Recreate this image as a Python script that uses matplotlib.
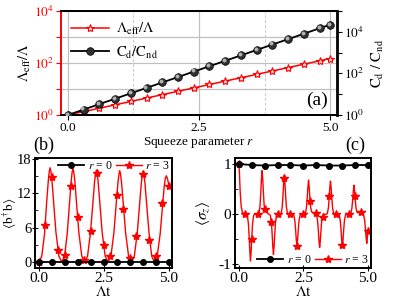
import matplotlib
matplotlib.use('Agg')
import matplotlib.pyplot as plt
from matplotlib.ticker import NullFormatter, FixedLocator, LogLocator
from matplotlib.transforms import offset_copy

plt.rcParams['font.family'] = ['Liberation Serif', 'DejaVu Serif']
plt.rcParams['mathtext.fontset'] = 'stix'
plt.rcParams['axes.unicode_minus'] = False

# ---- panel (a): ratios vs squeeze parameter
r_a = [0.0, 0.3, 0.6, 0.9, 1.2, 1.5, 1.8, 2.1, 2.4, 2.7, 3.0, 3.3, 3.6, 3.9, 4.2, 4.5, 4.8, 5.0]
lam_ratio = [1.0, 1.35, 1.82, 2.46, 3.32, 4.48, 6.05, 8.17, 11.0, 14.9, 20.1, 27.1, 36.6,
             49.4, 66.7, 90.0, 122, 148]
cd_ratio = [1.0, 1.82, 3.32, 6.05, 11.0, 20.1, 36.6, 66.7, 122, 221, 403, 735, 1340,
            2440, 4450, 8100, 14800, 22000]

# ---- panel (b): <b^dag b> vs Lambda t
t_mark = [0.0, 0.25, 0.5, 0.75, 1.0, 1.25, 1.5, 1.75, 2.0, 2.25, 2.5, 2.75, 3.0, 3.25,
          3.5, 3.75, 4.0, 4.25, 4.5, 4.75, 5.0]
t_circ = [0.0, 0.5, 1.0, 1.5, 2.0, 2.5, 3.0, 3.5, 4.0, 4.5, 5.0]
nb_r0 = [0, 0, 0, 0, 0, 0, 0, 0, 0, 0, 0]
nb_star = [0.0, 6.4, 14.8, 2.0, 1.3, 13.3, 7.8, 0.4, 5.4, 15.5, 3.0, 1.1, 11.7, 9.2,
           0.7, 4.6, 15.4, 3.9, 1.1, 10.2, 13.2]
t_b = [0.0, 0.11, 0.215, 0.30, 0.365, 0.40, 0.43, 0.46, 0.50, 0.565, 0.655, 0.77, 0.88,
       0.99, 1.095, 1.18, 1.245, 1.28, 1.31, 1.34, 1.38, 1.445, 1.535, 1.65, 1.76,
       1.87, 1.985, 2.075, 2.14, 2.18, 2.21, 2.24, 2.28, 2.345, 2.435, 2.55, 2.66,
       2.77, 2.885, 2.975, 3.04, 3.08, 3.11, 3.14, 3.18, 3.245, 3.335, 3.45, 3.56,
       3.67, 3.785, 3.875, 3.94, 3.98, 4.01, 4.04, 4.08, 4.145, 4.235, 4.34, 4.44,
       4.55, 4.665, 4.755, 4.82, 4.86, 4.90, 4.94, 4.97, 5.0]
nb_r3 = [0.0, 1.0, 4.8, 10.5, 14.3, 15.8, 16.4, 15.8, 14.3, 10.5, 5.2, 1.0, 0.0,
         1.0, 5.2, 10.4, 14.2, 15.7, 16.3, 15.7, 14.2, 10.4, 5.2, 1.0, 0.0,
         1.0, 5.1, 10.2, 13.9, 15.4, 16.0, 15.4, 13.9, 10.2, 5.1, 1.0, 0.0,
         1.0, 5.1, 10.2, 13.8, 15.3, 15.9, 15.3, 13.8, 10.2, 5.1, 1.0, 0.0,
         1.0, 5.1, 10.1, 13.7, 15.2, 15.8, 15.2, 13.7, 10.1, 5.1, 1.0, 0.0,
         1.0, 4.9, 9.7, 13.1, 14.5, 15.0, 14.6, 14.0, 13.2]

# ---- panel (c): <sigma_z> vs Lambda t
sz_r0 = [1.0, 0.98, 0.97, 0.98, 0.98, 0.97, 0.98, 0.97, 0.97, 0.98, 0.98]
sz_star = [1.0, 0.0, -0.5, 0.0, 0.1, -0.15, 0.0, 0.73, 0.0, -0.64, 0.0, 0.26, 0.03,
           -0.05, 0.36, 0.0, -0.61, 0.0, 0.37, 0.05, -0.33]
t_c = [0.0, 0.02, 0.05, 0.09, 0.14, 0.20, 0.30,
       0.33, 0.37, 0.40, 0.425, 0.45, 0.475, 0.50, 0.53, 0.57, 0.60,
       0.75, 0.78, 0.82, 0.85, 0.875, 0.90, 0.925, 0.95, 0.98, 1.02, 1.05, 1.12,
       1.22, 1.26, 1.29, 1.315, 1.34, 1.365, 1.39, 1.42, 1.46, 1.49,
       1.61, 1.64, 1.68, 1.71, 1.735, 1.76, 1.785, 1.81, 1.84, 1.88, 1.91,
       2.10, 2.13, 2.17, 2.20, 2.225, 2.25, 2.275, 2.30, 2.33, 2.37, 2.40,
       2.55, 2.58, 2.62, 2.65, 2.675, 2.70, 2.725, 2.75, 2.78, 2.82, 2.86,
       2.98, 3.01, 3.05, 3.08, 3.105, 3.13, 3.155, 3.18, 3.21, 3.25, 3.28,
       3.40, 3.43, 3.47, 3.50, 3.525, 3.55, 3.575, 3.60, 3.63, 3.67, 3.70,
       3.86, 3.89, 3.93, 3.96, 3.985, 4.01, 4.035, 4.06, 4.09, 4.13, 4.16,
       4.31, 4.34, 4.38, 4.41, 4.435, 4.46, 4.485, 4.51, 4.54, 4.58, 4.62, 4.70, 4.78,
       4.835, 4.875, 4.905, 4.93, 4.955, 4.98, 5.0]
sz_r3 = [1.00, 0.85, 0.45, 0.15, 0.04, 0.01, 0.0,
         -0.03, -0.19, -0.47, -0.74, -0.93, -0.74, -0.47, -0.19, -0.03, 0.0,
         0.0, 0.03, 0.17, 0.44, 0.70, 0.87, 0.70, 0.44, 0.17, 0.06, 0.04, 0.02,
         -0.02, -0.16, -0.40, -0.64, -0.80, -0.64, -0.40, -0.16, -0.02, 0.0,
         0.0, 0.02, 0.15, 0.39, 0.62, 0.77, 0.62, 0.39, 0.15, 0.03, 0.01,
         0.0, -0.02, -0.13, -0.32, -0.51, -0.64, -0.51, -0.32, -0.13, -0.02, 0.0,
         0.0, 0.02, 0.14, 0.34, 0.54, 0.68, 0.54, 0.34, 0.14, 0.05, 0.03,
         0.02, 0.0, -0.13, -0.33, -0.53, -0.66, -0.53, -0.33, -0.13, -0.03, 0.0,
         0.0, 0.02, 0.13, 0.33, 0.53, 0.66, 0.53, 0.33, 0.13, 0.02, 0.0,
         0.0, -0.02, -0.13, -0.32, -0.51, -0.64, -0.51, -0.32, -0.13, -0.02, 0.0,
         0.0, 0.02, 0.12, 0.29, 0.46, 0.58, 0.46, 0.29, 0.12, 0.04, 0.03, 0.04, 0.03,
         -0.02, -0.12, -0.29, -0.46, -0.58, -0.46, -0.32]

RED = '#ff0000'
W, H = 399, 304


def box(l, t, r, b):
    # pixel box -> figure fraction rect
    return [l / W, 1 - b / H, (r - l) / W, (b - t) / H]


fig = plt.figure(figsize=(W / 100, H / 100), dpi=100)

# ================= (a)
ax = fig.add_axes(box(61, 11, 337, 115))
ax.set_yscale('log')
ax.set_xlim(-0.13, 5.13)
ax.set_ylim(1, 1e4)
ax.set_yticks([1, 10, 100, 1000, 1e4])
ax.set_yticklabels([r'$10^0$', '', r'$10^2$', '', r'$10^4$'])
ax.yaxis.set_minor_locator(LogLocator(base=10, subs=range(2, 10)))
ax.yaxis.set_minor_formatter(NullFormatter())
ax.set_xticks([0, 2.5, 5])
ax.set_xticklabels(['0.0', '2.5', '5.0'])
ax.set_xticks([1.25, 3.75], minor=True)
ax.grid(True, which='major', color='#c0c0c0', lw=0.9)
ax.grid(True, which='minor', axis='x', color='#c8c8c8', lw=0.7, ls=(0, (3, 2)))
ax.tick_params(axis='x', which='minor', length=0)
ax.tick_params(axis='both', which='major', direction='out', length=3.5, labelsize=9.5, pad=1.5)
ax.tick_params(axis='y', which='minor', direction='out', length=1.8, width=0.6)
ax.tick_params(axis='y', which='both', colors=RED)
ax.spines['left'].set_color(RED)
for s in ax.spines.values():
    s.set_linewidth(1.4)
ax.spines['right'].set_visible(False)
l1, = ax.plot(r_a, lam_ratio, '-', color=RED, lw=1.1, marker='*', ms=6,
              mfc='#ffd0d0', mec=RED, mew=0.8, zorder=3)
ax.set_ylabel(r'$\Lambda_{\mathrm{eff}}/\Lambda$', fontsize=10.5)
ax.yaxis.set_label_coords(-0.101, 0.5)
ax.set_xlabel(r'Squeeze parameter $r$', fontsize=9.5, labelpad=1)
ax.text(0.967, 0.06, '(a)', transform=ax.transAxes, ha='right', va='bottom', fontsize=14)

ax2 = ax.twinx()
ax2.set_yscale('log')
ax2.set_ylim(1, 1e5)
ax2.set_yticks([1, 10, 100, 1000, 1e4, 1e5])
ax2.set_yticklabels([r'$10^0$', '', r'$10^2$', '', r'$10^4$', ''])
ax2.yaxis.set_minor_locator(FixedLocator([]))
ax2.tick_params(axis='y', direction='out', length=3.5, labelsize=9.5, pad=1.5)
for s in ax2.spines.values():
    s.set_linewidth(1.4)
ax2.spines['left'].set_visible(False)
ax2.spines['right'].set_linewidth(2.0)
l2, = ax2.plot(r_a, cd_ratio, '-', color='black', lw=1.3, marker='o', ms=5.5,
               mfc='#303030', mec='black', mew=0.5, zorder=3)
# small highlight so the balls look shaded
ax2.plot(r_a, cd_ratio, ls='none', marker='o', ms=1.8, color='#b0b0b0', zorder=4,
         transform=offset_copy(ax2.transData, fig=fig, x=-0.8, y=0.8, units='points'))
ax2.set_ylabel(r'$\mathrm{C_d\ /\ C_{nd}}$', fontsize=10.5)
ax2.yaxis.set_label_coords(1.12, 0.5)
ax2.legend([l1, l2], [r'$\Lambda_{\mathrm{eff}}/\Lambda$', r'$\mathrm{C_d/C_{nd}}$'],
           loc='upper left', frameon=False, fontsize=10.5, handlelength=2.6,
           borderaxespad=0.3, labelspacing=0.5, handletextpad=0.5)

# ================= (b)
bx = fig.add_axes(box(35, 158, 172, 268))
bx.plot(t_b, nb_r3, '-', color=RED, lw=1.0)
bx.plot(t_mark, nb_star, ls='none', marker='*', ms=6, color=RED, mec=RED)
hb0, = bx.plot(t_circ, nb_r0, '-', color='black', lw=1.3, marker='o', ms=4)
hb3, = bx.plot([], [], '-', color=RED, lw=1.0, marker='*', ms=6)
bx.set_xlim(-0.15, 5.12)
bx.set_ylim(-1.05, 18.1)
bx.set_yticks([0, 6, 12, 18])
bx.set_yticks([3, 9, 15], minor=True)
bx.set_xticks([0, 2.5, 5])
bx.set_xticklabels(['0.0', '2.5', '5.0'])
bx.set_xlabel(r'$\Lambda\mathrm{t}$', fontsize=11, labelpad=0)
bx.set_ylabel(r'$\langle \mathrm{b}^{\dagger}\,\mathrm{b}\rangle$', fontsize=9.5)
bx.yaxis.set_label_coords(-0.118, 0.5)
bx.legend([hb0, hb3], [r'$r$ = 0', r'$r$ = 3'], loc='upper right', ncol=2,
          frameon=False, fontsize=8.5, handlelength=2.2, columnspacing=0.3,
          handletextpad=0.3, borderaxespad=0.1, borderpad=0.1)
fig.text(33 / W, 1 - 145 / H, '(b)', ha='left', va='center', fontsize=13)

# ================= (c)
cx = fig.add_axes(box(235, 158, 371, 268))
cx.plot(t_c, sz_r3, '-', color=RED, lw=1.0)
cx.plot(t_mark, sz_star, ls='none', marker='*', ms=6, color=RED, mec=RED)
hc0, = cx.plot(t_circ, sz_r0, '-', color='black', lw=1.3, marker='o', ms=4)
hc3, = cx.plot([], [], '-', color=RED, lw=1.0, marker='*', ms=6)
cx.set_xlim(-0.15, 5.12)
cx.set_ylim(-1.07, 1.12)
cx.set_yticks([-1, 0, 1])
cx.set_yticks([-0.5, 0.5], minor=True)
cx.set_xticks([0, 2.5, 5])
cx.set_xticklabels(['0.0', '2.5', '5.0'])
cx.set_xlabel(r'$\Lambda\mathrm{t}$', fontsize=11, labelpad=0)
cx.set_ylabel(r'$\langle\sigma_z\rangle$', fontsize=11)
cx.yaxis.set_label_coords(-0.17, 0.5)
cx.legend([hc0, hc3], [r'$r$ = 0', r'$r$ = 3'], loc='lower right', ncol=2,
          frameon=False, fontsize=8.5, handlelength=2.2, columnspacing=0.3,
          handletextpad=0.3, borderaxespad=0.1, borderpad=0.1)
fig.text(355 / W, 1 - 145 / H, '(c)', ha='center', va='center', fontsize=13)

for a in (bx, cx):
    for s in a.spines.values():
        s.set_linewidth(1.4)
    a.tick_params(which='major', direction='inout', length=4, labelsize=11, pad=1)
    a.tick_params(which='minor', direction='in', length=2)
bx.tick_params(axis='y', labelsize=10.5, pad=0.5)

fig.savefig('out.png', dpi=100)
